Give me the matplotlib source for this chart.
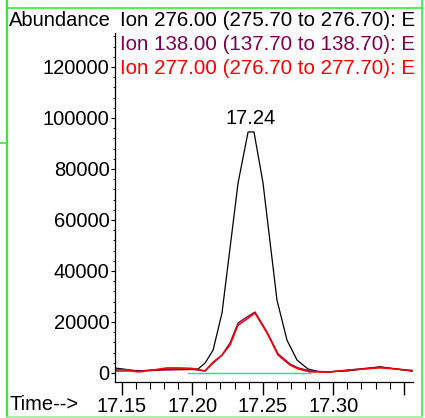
import matplotlib
matplotlib.use("Agg")
import matplotlib.pyplot as plt
from matplotlib.ticker import FixedLocator, MultipleLocator

plt.rcParams['font.family'] = ['Liberation Sans', 'DejaVu Sans']

# Ion 276.00 (black)
t_276 = [17.1452, 17.1616, 17.1821, 17.2041, 17.2091, 17.2148, 17.2211, 17.2325,
         17.2396, 17.2438, 17.2502, 17.2601, 17.2672, 17.2743, 17.2821, 17.2906,
         17.3098, 17.3332, 17.3559]
a_276 = [1960, 800, 1570, 1570, 3900, 9000, 23500, 74500,
         94500, 94500, 74500, 28600, 12900, 5100, 1570, 400,
         800, 2350, 800]

# Ion 138.00 (purple)
t_138 = [17.1452, 17.1616, 17.1821, 17.1999, 17.2091, 17.2148, 17.2211, 17.2268,
         17.2325, 17.2389, 17.2445, 17.2530, 17.2609, 17.2694, 17.2751, 17.2836,
         17.2977, 17.3119, 17.3332, 17.3559]
a_138 = [800, 800, 1200, 1400, 800, 3900, 7000, 11800,
         19600, 22000, 23900, 16100, 7500, 3500, 2000, 800,
         400, 1200, 2400, 800]

# Ion 277.00 (red)
t_277 = [17.1452, 17.1538, 17.1616, 17.1750, 17.1821, 17.1914, 17.1999, 17.2091,
         17.2148, 17.2211, 17.2268, 17.2325, 17.2389, 17.2445, 17.2530, 17.2609,
         17.2694, 17.2751, 17.2836, 17.2977, 17.3119, 17.3332, 17.3438, 17.3559]
a_277 = [1400, 1200, 400, 1400, 2000, 2000, 1800, 800,
         4300, 7000, 11000, 18800, 21200, 23500, 15700, 7000,
         3100, 1600, 400, 400, 1200, 2000, 1600, 1000]

# integration baseline
base_t = [17.1968, 17.2833]
base_a = [0, 0]

x_ticks = [17.15, 17.20, 17.25, 17.30, 17.35]
x_labels = ["17.15", "17.20", "17.25", "17.30", ""]
y_ticks = [0, 20000, 40000, 60000, 80000, 100000, 120000]

legend_text = ["Ion 276.00 (275.70 to 276.70): E",
               "Ion 138.00 (137.70 to 138.70): E",
               "Ion 277.00 (276.70 to 277.70): E"]
colors = ["black", "#800050", "#ff0000"]

W, H = 425, 418
fig = plt.figure(figsize=(W / 100, H / 100), dpi=100)

ax = fig.add_axes([115 / W, (H - 382) / H, 298 / W, 349 / H])
ax.plot(base_t, base_a, color="#00e0e0", lw=1.0)
ax.plot(t_276, a_276, color=colors[0], lw=0.9)
ax.plot(t_138, a_138, color=colors[1], lw=1.0)
ax.plot(t_277, a_277, color=colors[2], lw=1.1)

ax.set_xlim(17.1452, 17.3566)
ax.set_ylim(-3530, 133300)
for s in ["top", "right"]:
    ax.spines[s].set_visible(False)
ax.spines["left"].set_linewidth(0.9)
ax.spines["bottom"].set_linewidth(0.9)

ax.xaxis.set_major_locator(FixedLocator(x_ticks))
ax.set_xticklabels(x_labels)
ax.xaxis.set_minor_locator(MultipleLocator(0.01))
ax.yaxis.set_major_locator(FixedLocator(y_ticks))
ax.set_yticklabels([str(v) for v in y_ticks])
ax.yaxis.set_minor_locator(MultipleLocator(4000))
ax.tick_params(axis="x", which="major", length=9, width=1.0, pad=2, labelsize=14.5)
ax.tick_params(axis="x", which="minor", length=5, width=0.8)
ax.tick_params(axis="y", which="major", length=3, width=0.8, pad=1, labelsize=14.5)
ax.tick_params(axis="y", which="minor", length=1.5, width=0.6)

ax.annotate("17.24", xy=(17.2417, 94500), xytext=(0, 3), textcoords="offset points",
            ha="center", va="bottom", fontsize=14.5)

# overlay for header texts and frame
fr = fig.add_axes([0, 0, 1, 1])
fr.set_xlim(0, W)
fr.set_ylim(H, 0)
fr.axis("off")
fr.patch.set_alpha(0)

fr.text(9, 20, "Abundance", fontsize=14.5, va="center", ha="left")
for i, (txt, c) in enumerate(zip(legend_text, colors)):
    fr.text(120, 20 + 24 * i, txt, color=c, fontsize=14.8, va="center", ha="left")
fr.text(10, 405, "Time-->", fontsize=14.5, va="center", ha="left")

g = "#33ee33"
fr.plot([7.5, 7.5], [0, 417], color=g, lw=1.6)
fr.plot([422, 422], [0, 417], color=g, lw=1.2)
fr.plot([7, 422], [7.5, 7.5], color=g, lw=1.2)
fr.plot([7, 422], [416.5, 416.5], color="#99ee99", lw=1.2)
fr.plot([0, 7], [143, 143], color=g, lw=1.2)

fig.savefig("out.png", dpi=100)
